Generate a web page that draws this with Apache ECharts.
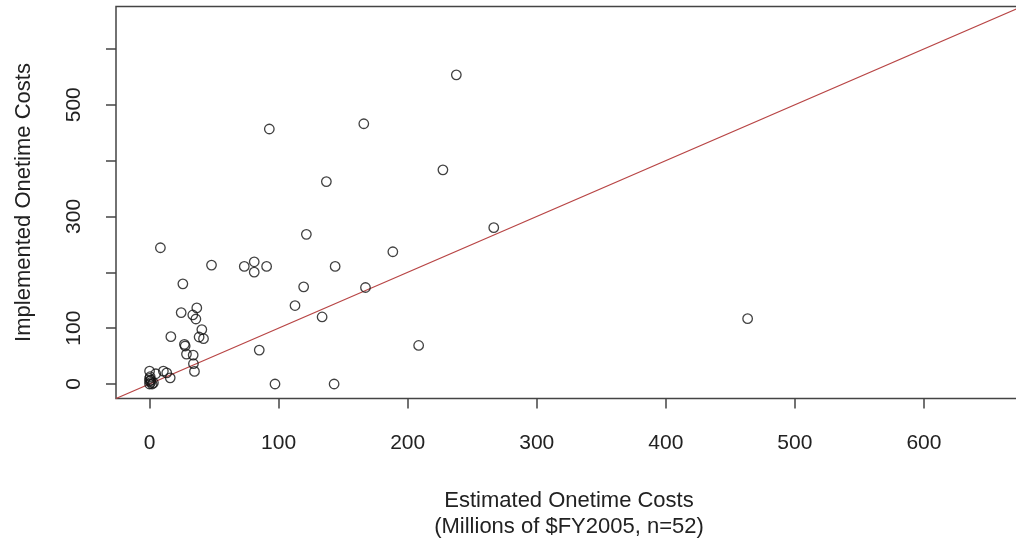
<!DOCTYPE html>
<html>
<head>
<meta charset="utf-8">
<script src="https://cdn.jsdelivr.net/npm/echarts@6/dist/echarts.min.js"></script>
<style>
  html, body { margin: 0; padding: 0; background: #fff; }
  #chart { width: 1016px; height: 541px; }
</style>
</head>
<body>
<div id="chart"></div>
<script>
// Estimated (x) vs implemented (y) one-time costs, millions of $FY2005
const estimated = [
  92.8, 166, 137, 237.7, 227.3, 8.4, 121.5, 188.5, 48, 73.4,
  81.1, 81.1, 90.7, 143.8, 25.8, 119.4, 167.3, 24.5, 36.6, 33.5,
  35.9, 112.7, 133.7, 40.5, 38.4, 41.8, 16.5, 27, 27.6, 28.6,
  33.8, 34, 34.8, 85, 97.2, 143, 208.5, 266.7, 463.4, 0,
  4.8, 10.7, 13.3, 16, 0, 0, 1, 2, 0, 3,
  1, 0.5
];
const implemented = [
  456.6, 466, 362.5, 553.6, 383.5, 244, 268, 236.8, 212.9, 210.5,
  218.8, 200.3, 210.5, 210.5, 179.3, 173.9, 172.8, 127.9, 136.2, 123.6,
  116.4, 140.5, 120, 97.4, 84.1, 81.2, 84.8, 71, 68, 53.5,
  51.7, 36.3, 22.5, 60.7, 0, 0, 69, 280, 117, 23,
  18.3, 23, 20, 11, 10, 5, 7, 0, 0, 2,
  3, 13
];
// Axis limits and ticks
const axisMin = -26;
const axisMax = 676;
const xTicks = [0, 100, 200, 300, 400, 500, 600];
const yTicks = [0, 100, 200, 300, 400, 500, 600];
const yTickLabels = [0, 100, 300, 500];
// Reference line y = intercept + slope * x
const refIntercept = 0;
const refSlope = 1;

const points = estimated.map((x, i) => [x, implemented[i]]);
const refLine = [axisMin, axisMax].map(x => [x, refIntercept + refSlope * x]);

const chart = echarts.init(document.getElementById('chart'), null, { renderer: 'canvas' });
const font = '"Liberation Sans", Arial, sans-serif';
const axisColor = '#444';

chart.setOption({
  animation: false,
  backgroundColor: '#ffffff',
  grid: {
    left: 116, top: 6.5, width: 906, height: 392,
    show: true, borderColor: axisColor, borderWidth: 1.5, backgroundColor: 'transparent',
    containLabel: false, outerBoundsMode: 'none'
  },
  xAxis: {
    type: 'value', min: axisMin, max: axisMax, position: 'bottom',
    axisLine: { show: false, onZero: false },
    splitLine: { show: false },
    axisTick: { show: true, inside: false, length: 10, customValues: xTicks,
      lineStyle: { color: axisColor, width: 1.5 } },
    axisLabel: { show: true, customValues: xTicks, margin: 34,
      color: '#222', fontSize: 21, fontFamily: font },
    name: 'Estimated Onetime Costs\n(Millions of $FY2005, n=52)',
    nameLocation: 'middle', nameGap: 89,
    nameTextStyle: { color: '#222', fontSize: 22, lineHeight: 26, fontFamily: font }
  },
  yAxis: {
    type: 'value', min: axisMin, max: axisMax, position: 'left',
    axisLine: { show: false, onZero: false },
    splitLine: { show: false },
    axisTick: { show: true, inside: false, length: 10, customValues: yTicks,
      lineStyle: { color: axisColor, width: 1.5 } },
    axisLabel: { show: true, customValues: yTickLabels, rotate: 90, margin: 31,
      color: '#222', fontSize: 21, fontFamily: font },
    name: 'Implemented Onetime Costs',
    nameLocation: 'middle', nameGap: 81,
    nameTextStyle: { color: '#222', fontSize: 22, fontFamily: font }
  },
  series: [
    {
      type: 'line',
      data: refLine,
      showSymbol: false,
      symbol: 'none',
      lineStyle: { color: '#b84545', width: 1.3 },
      silent: true,
      z: 1
    },
    {
      type: 'scatter',
      data: points,
      symbol: 'circle',
      symbolSize: 9.5,
      itemStyle: { color: 'rgba(0,0,0,0)', borderColor: '#111', borderWidth: 1.3 },
      z: 2
    }
  ]
});
</script>
</body>
</html>
